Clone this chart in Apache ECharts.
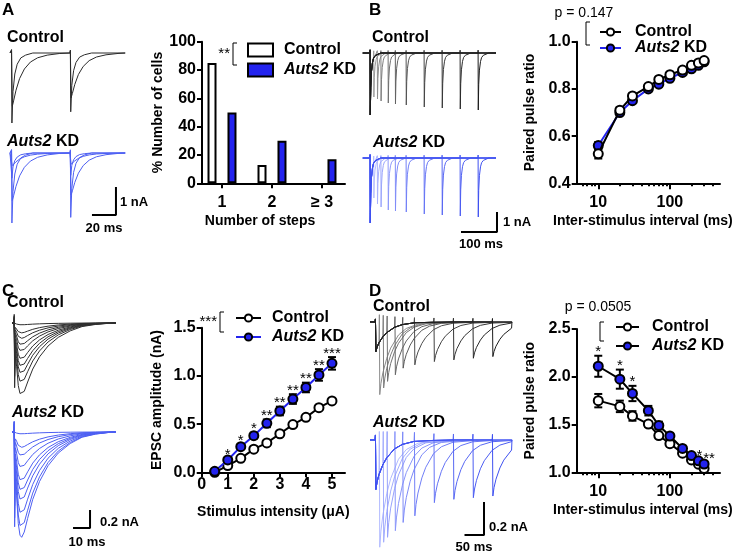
<!DOCTYPE html>
<html>
<head>
<meta charset="utf-8">
<script src="https://cdn.jsdelivr.net/npm/echarts@6.0.0/dist/echarts.min.js"></script>
<style>
    html, body { margin: 0; padding: 0; background: #fff; }
    #wrap { position: relative; width: 736px; height: 553px; }
    .panel { position: absolute; left: 0; top: 0; width: 736px; height: 553px; }
</style>
</head>
<body>
<div id="wrap">
    <div class="panel" id="pA"></div>
    <div class="panel" id="pB"></div>
    <div class="panel" id="pC"></div>
    <div class="panel" id="pD"></div>
</div>
<script>
// ---------- data ----------

// A: number of steps
const stepPos = [1, 2, 3];
const stepLabels = ['1', '2', '≥ 3'];
const stepsControl = [85, 13, 0];
const stepsKD = [50, 30, 17];

// inter-stimulus intervals (ms), B and D
const isiMs = [10, 20, 30, 50, 70, 100, 150, 200, 250, 300];

// B: paired pulse ratio
const pprBControl = [0.525, 0.71, 0.77, 0.81, 0.84, 0.86, 0.88, 0.90, 0.91, 0.92];
const pprBControlErr = [0.02, 0.012, 0.01, 0.01, 0.01, 0.01, 0.008, 0.008, 0.008, 0.008];
const pprBKD = [0.56, 0.70, 0.75, 0.80, 0.82, 0.845, 0.87, 0.885, 0.90, 0.915];
const pprBKDErr = [0.015, 0.01, 0.01, 0.01, 0.01, 0.01, 0.008, 0.008, 0.008, 0.008];

// C: input-output
const stimUA = [0.5, 1, 1.5, 2, 2.5, 3, 3.5, 4, 4.5, 5];
const epscControl = [0.0, 0.07, 0.145, 0.24, 0.305, 0.40, 0.495, 0.57, 0.67, 0.74];
const epscControlErr = [0.005, 0.01, 0.01, 0.015, 0.015, 0.02, 0.02, 0.02, 0.01, 0.02];
const epscKD = [0.01, 0.128, 0.266, 0.38, 0.508, 0.636, 0.76, 0.88, 1.01, 1.13];
const epscKDErr = [0.005, 0.02, 0.025, 0.03, 0.04, 0.045, 0.05, 0.05, 0.06, 0.065];
const epscStars = ['', '*', '*', '*', '**', '**', '**', '**', '**', '***'];

// D: paired pulse ratio
const pprDControl = [1.75, 1.69, 1.59, 1.505, 1.385, 1.30, 1.20, 1.13, 1.085, 1.04];
const pprDControlErr = [0.07, 0.06, 0.05, 0.03, 0.03, 0.03, 0.02, 0.02, 0.02, 0.02];
const pprDKD = [2.11, 1.975, 1.825, 1.645, 1.49, 1.38, 1.25, 1.175, 1.12, 1.087];
const pprDKDErr = [0.11, 0.1, 0.08, 0.05, 0.04, 0.03, 0.02, 0.02, 0.02, 0.02];
const pprDStars = ['*', '*', '*', '', '', '', '', '', '*', '**'];

// example traces: normalised waveform shapes [ms after stimulus, fraction of peak]
const shapeAFast = [[0, 0], [0.3, -0.05], [0.6, 1], [1.5, 0.55], [3, 0.3], [5, 0.16], [8, 0.07], [12, 0.03], [18, 0], [49, 0]];
const shapeASlow = [[0, 0], [0.3, -0.05], [0.9, 1], [2, 0.9], [4, 0.7], [7, 0.48], [11, 0.3], [16, 0.17], [22, 0.09], [30, 0.04], [40, 0.01], [49, 0]];
const traceAStims = [1, 50];
const traceACtrlPeaks = [[2.5, 2.1], [1.9, 1.6]];
const traceACtrlKinetics = ['fast', 'slow'];
const traceAKDPeaks = [[2.5, 2.3], [1.7, 1.5], [0.9, 0.8], [0.45, 0.4]];
const traceAKDKinetics = ['fast', 'slow', 'fast', 'slow'];

const shapeB = [[0, 0], [0.3, -0.05], [0.8, 1], [2, 0.55], [4, 0.3], [7, 0.15], [10, 0.08], [15, 0.04], [20, 0.02], [30, 0]];
const traceBStim = 20;
const traceBCtrlPeak1 = 3.1;
const traceBCtrlPeak2 = [2.2, 2.3, 2.4, 2.5, 2.55, 2.6, 2.7, 2.75, 2.8, 2.85];
const traceBKDPeak1 = 3.25;
const traceBKDPeak2 = [2.0, 2.3, 2.45, 2.6, 2.65, 2.7, 2.8, 2.85, 2.9, 2.95];

const shapeC = [[0, 0], [0.1, -0.12], [0.35, 0.9], [0.8, 0.45], [1.5, 0.6], [2.5, 0.87], [3.5, 0.98], [4.5, 1], [6, 0.95], [8, 0.82], [11, 0.64], [15, 0.47], [20, 0.32], [26, 0.2], [33, 0.11], [40, 0.05], [48, 0.02], [58, 0]];
const traceCStim = 1.2;
const traceCCtrlPeaks = [0.02, 0.11, 0.17, 0.24, 0.31, 0.40, 0.48, 0.56, 0.66, 0.80];
const traceCKDPeaks = [0.02, 0.17, 0.26, 0.39, 0.54, 0.65, 0.76, 0.91, 1.06, 1.17];

const shapeD = [[0, 0], [1, -0.1], [2, 1], [5, 0.85], [10, 0.7], [20, 0.5], [30, 0.36], [50, 0.18], [70, 0.09], [100, 0.03], [150, 0.01], [200, 0], [250, 0], [300, 0]];
const traceDStim = 13;
const traceDCtrlPeak1 = 0.18;
const traceDCtrlPeak2 = [0.44, 0.40, 0.36, 0.32, 0.28, 0.26, 0.24, 0.23, 0.22, 0.21];
const traceDKDPeak1 = 0.30;
const traceDKDPeak2 = [0.65, 0.62, 0.59, 0.55, 0.50, 0.46, 0.38, 0.36, 0.35, 0.34];

// ---------- helpers ----------
const FONT = "'Liberation Sans', Arial, Helvetica, sans-serif";
const BLUE = '#2323ee';
const TRACE_BLUE = '#4d5ff2';

function shade(c1, c2, t) {
    const a = parseInt(c1.slice(1), 16), b = parseInt(c2.slice(1), 16);
    const ch = (v, s) => (v >> s) & 255;
    const mix = (s) => Math.round(ch(a, s) + (ch(b, s) - ch(a, s)) * t);
    return 'rgb(' + mix(16) + ',' + mix(8) + ',' + mix(0) + ')';
}

// a sweep: one waveform per stimulus, each cut where the next one starts
function buildTrace(stims, peaks, shape, end) {
    const pts = [[0, 0]];
    stims.forEach((s, i) => {
        const stop = i + 1 < stims.length ? stims[i + 1] : end;
        if (i > 0) pts.push([s, pts[pts.length - 1][1]]);
        shape.forEach(([tau, f], k) => {
            if (k === 0) {
                if (i === 0) pts.push([s, 0]);
                return;
            }
            if (s + tau <= stop) pts.push([s + tau, -peaks[i] * f]);
        });
    });
    pts.push([end, 0]);
    return pts;
}

function traceSeries(data, axisIdx, color, width) {
    return {
        type: 'line', xAxisIndex: axisIdx, yAxisIndex: axisIdx, data: data,
        symbol: 'none', silent: true, z: 2,
        lineStyle: { color: color, width: width || 1 }
    };
}

function scaleBar(data, axisIdx) {
    return {
        type: 'line', xAxisIndex: axisIdx, yAxisIndex: axisIdx, data: data,
        symbol: 'none', silent: true, z: 3,
        lineStyle: { color: '#000', width: 2 }
    };
}

function hiddenAxis(gridIndex, min, max) {
    return { type: 'value', gridIndex: gridIndex, min: min, max: max, show: false };
}

const tickLabel = { color: '#000', fontFamily: FONT, fontWeight: 'bold', fontSize: 16 };
const axisName = { color: '#000', fontFamily: FONT, fontWeight: 'bold', fontSize: 14 };
const axisLine = { show: true, lineStyle: { color: '#000', width: 2 } };
const axisTick = { show: true, length: 5, lineStyle: { color: '#000', width: 2 } };

function label(x, y, text, size, weight, align) {
    return {
        type: 'text', x: x, y: y, silent: true,
        style: {
            text: text, fill: '#000', fontFamily: FONT, fontSize: size,
            fontWeight: weight || 'bold', align: align || 'left', verticalAlign: 'middle',
            rich: { i: { fontFamily: FONT, fontSize: size, fontWeight: 'bold', fontStyle: 'italic' } }
        }
    };
}

function bracket(x, y1, y2) {
    return {
        type: 'polyline', silent: true,
        shape: { points: [[x + 4, y1], [x, y1], [x, y2], [x + 4, y2]] },
        style: { stroke: '#000', lineWidth: 1, fill: null }
    };
}

function legendFmt(name) {
    return name === 'Auts2 KD' ? '{i|Auts2} KD' : name;
}

function legend(left, top, itemWidth, itemHeight, gap, textPad, icon) {
    const l = {
        orient: 'vertical', left: left, top: top, itemWidth: itemWidth, itemHeight: itemHeight,
        itemGap: gap, selectedMode: false, data: ['Control', 'Auts2 KD'],
        formatter: legendFmt,
        textStyle: {
            color: '#000', fontFamily: FONT, fontWeight: 'bold', fontSize: 16, lineHeight: 16,
            padding: [0, 0, 0, textPad],
            rich: { i: { fontFamily: FONT, fontWeight: 'bold', fontStyle: 'italic', fontSize: 16, lineHeight: 16 } }
        }
    };
    if (icon) l.icon = icon;
    return l;
}

function errorSeries(xs, vals, errs, axisIdx) {
    return {
        type: 'custom', xAxisIndex: axisIdx, yAxisIndex: axisIdx, silent: true, z: 1,
        data: xs.map((x, i) => [x, vals[i] - errs[i], vals[i] + errs[i]]),
        encode: { x: 0, y: [1, 2] },
        renderItem: function (params, api) {
            const hi = api.coord([api.value(0), api.value(2)]);
            const lo = api.coord([api.value(0), api.value(1)]);
            const st = { stroke: '#000', lineWidth: 2 };
            return {
                type: 'group', children: [
                    { type: 'line', shape: { x1: hi[0], y1: hi[1], x2: lo[0], y2: lo[1] }, style: st },
                    { type: 'line', shape: { x1: hi[0] - 4, y1: hi[1], x2: hi[0] + 4, y2: hi[1] }, style: st },
                    { type: 'line', shape: { x1: lo[0] - 4, y1: lo[1], x2: lo[0] + 4, y2: lo[1] }, style: st }
                ]
            };
        }
    };
}

function starSeries(xs, vals, errs, stars, axisIdx, dx) {
    return {
        type: 'custom', xAxisIndex: axisIdx, yAxisIndex: axisIdx, silent: true, z: 5,
        data: xs.map((x, i) => [x, vals[i] + errs[i]]),
        renderItem: function (params, api) {
            const p = api.coord([api.value(0), api.value(1)]);
            return {
                type: 'text', x: p[0] + (dx ? dx[params.dataIndex] : 0), y: p[1] + 4,
                style: {
                    text: stars[params.dataIndex], fill: '#000', fontFamily: FONT,
                    fontSize: 15, align: 'center', verticalAlign: 'bottom'
                }
            };
        }
    };
}

function meanSeries(name, xs, vals, axisIdx, lineColor, fill, z) {
    return {
        name: name, type: 'line', xAxisIndex: axisIdx, yAxisIndex: axisIdx,
        data: xs.map((x, i) => [x, vals[i]]), silent: true, z: z,
        symbol: 'circle', symbolSize: 9,
        lineStyle: { color: lineColor, width: 2 },
        itemStyle: { color: fill, borderColor: '#000', borderWidth: 2 }
    };
}

function logAxes(gridIndex) {
    return [
        {
            type: 'log', gridIndex: gridIndex, min: 5, max: 500, position: 'bottom',
            axisLine: axisLine,
            axisTick: { show: true, length: 6, customValues: [10, 100], lineStyle: { color: '#000', width: 2 } },
            axisLabel: Object.assign({ customValues: [10, 100], margin: 11 }, tickLabel),
            splitLine: { show: false }, minorTick: { show: false },
            name: 'Inter-stimulus interval (ms)', nameLocation: 'middle', nameGap: 31,
            nameTextStyle: Object.assign({ padding: [0, 11, 0, 0] }, axisName)
        },
        {
            type: 'log', gridIndex: gridIndex, min: 5, max: 500, position: 'bottom',
            axisLine: { show: false },
            axisTick: { show: true, length: 3, customValues: [6, 7, 8, 9, 20, 30, 40, 50, 60, 70, 80, 90, 200, 300, 400], lineStyle: { color: '#000', width: 2 } },
            axisLabel: { show: false }, splitLine: { show: false }
        }
    ];
}

function pprSweeps(stim, peak1, peak2, shape, end, axisIdx, c1, c2) {
    return isiMs.map((iv, i) => traceSeries(
        buildTrace([stim, stim + iv], [peak1, peak2[i]], shape, end), axisIdx, shade(c1, c2, i / 9), 1));
}

// ---------- panel A ----------
const chartA = echarts.init(document.getElementById('pA'));
const seriesA = [];
traceACtrlPeaks.forEach((pk, i) => {
    seriesA.push(traceSeries(buildTrace(traceAStims, pk, traceACtrlKinetics[i] === 'fast' ? shapeAFast : shapeASlow, 96), 0, '#2a2a2a', 1));
});
traceAKDPeaks.forEach((pk, i) => {
    seriesA.push(traceSeries(buildTrace(traceAStims, pk, traceAKDKinetics[i] === 'fast' ? shapeAFast : shapeASlow, 96), 1, TRACE_BLUE, 1));
});
seriesA.push(scaleBar([[68.3, -2.214], [88.3, -2.214], [88.3, -1.214]], 1));
seriesA.push({
    name: 'Control', type: 'bar', xAxisIndex: 2, yAxisIndex: 2, silent: true,
    data: stepPos.map((x, i) => [x, stepsControl[i] === 0 ? '-' : stepsControl[i]]),
    barWidth: 9, barGap: '122%',
    itemStyle: { color: '#fff', borderColor: '#000', borderWidth: 2 }
});
seriesA.push({
    name: 'Auts2 KD', type: 'bar', xAxisIndex: 2, yAxisIndex: 2, silent: true,
    data: stepPos.map((x, i) => [x, stepsKD[i]]),
    barWidth: 9, barGap: '122%',
    itemStyle: { color: BLUE, borderColor: '#000', borderWidth: 2 }
});

chartA.setOption({
    animation: false,
    grid: [
        { left: 10, top: 45, width: 118, height: 85 },
        { left: 10, top: 145, width: 118, height: 83 },
        { left: 202, top: 41.7, width: 143, height: 141.6 }
    ],
    xAxis: [
        hiddenAxis(0, 0, 98.33),
        hiddenAxis(1, 0, 98.33),
        {
            type: 'value', gridIndex: 2, min: 0.6, max: 3.46,
            axisLine: axisLine,
            axisTick: Object.assign({ customValues: stepPos }, axisTick),
            axisLabel: Object.assign({ customValues: stepPos, margin: 11, formatter: (v) => stepLabels[stepPos.indexOf(v)] }, tickLabel),
            splitLine: { show: false },
            name: 'Number of steps', nameLocation: 'middle', nameGap: 31,
            nameTextStyle: Object.assign({ padding: [0, 27, 0, 0] }, axisName)
        }
    ],
    yAxis: [
        hiddenAxis(0, -2.75, 0.286),
        hiddenAxis(1, -2.679, 0.286),
        {
            type: 'value', gridIndex: 2, min: 0, max: 100, interval: 20,
            axisLine: axisLine, axisTick: axisTick,
            axisLabel: Object.assign({ margin: 6 }, tickLabel),
            splitLine: { show: false },
            name: '% Number of cells', nameLocation: 'middle', nameGap: 36,
            nameTextStyle: axisName
        }
    ],
    legend: legend(242, 37, 25, 13, 4, 6, 'rect'),
    graphic: [
        label(2, 10, 'A', 17),
        label(7, 38, 'Control', 16),
        label(7, 142, '{i|Auts2} KD', 16),
        label(120, 202, '1 nA', 13),
        label(104, 228, '20 ms', 13, 'bold', 'center'),
        label(230, 54, '**', 15, 'normal', 'right'),
        bracket(233, 43, 65)
    ],
    series: seriesA
});

// ---------- panel B ----------
const chartB = echarts.init(document.getElementById('pB'));
const seriesB = []
    .concat(pprSweeps(traceBStim, traceBCtrlPeak1, traceBCtrlPeak2, shapeB, 370, 0, '#9a9a9a', '#1c1c1c'))
    .concat(pprSweeps(traceBStim, traceBKDPeak1, traceBKDPeak2, shapeB, 370, 1, '#b6beff', '#3e50f0'));
seriesB.push(scaleBar([[272.8, -3.7], [372.8, -3.7], [372.8, -2.7]], 1));
seriesB.push(errorSeries(isiMs, pprBKD, pprBKDErr, 2));
seriesB.push(errorSeries(isiMs, pprBControl, pprBControlErr, 2));
seriesB.push(meanSeries('Auts2 KD', isiMs, pprBKD, 2, BLUE, BLUE, 3));
seriesB.push(meanSeries('Control', isiMs, pprBControl, 2, '#000', '#fff', 4));

chartB.setOption({
    animation: false,
    grid: [
        { left: 362.8, top: 45, width: 137, height: 80 },
        { left: 362.8, top: 150, width: 137, height: 82 },
        { left: 576.7, top: 41.7, width: 143.3, height: 141.6 }
    ],
    xAxis: [hiddenAxis(0, 0, 380.6), hiddenAxis(1, 0, 380.6)].concat(logAxes(2)),
    yAxis: [
        hiddenAxis(0, -3.6, 0.4),
        hiddenAxis(1, -3.7, 0.4),
        {
            type: 'value', gridIndex: 2, min: 0.4, max: 1.0, interval: 0.2,
            axisLine: axisLine, axisTick: axisTick,
            axisLabel: Object.assign({ margin: 6, formatter: (v) => v.toFixed(1) }, tickLabel),
            splitLine: { show: false },
            name: 'Paired pulse ratio', nameLocation: 'middle', nameGap: 40,
            nameTextStyle: axisName
        }
    ],
    legend: legend(594, 19, 21, 9, 0, 9),
    graphic: [
        label(369, 10, 'B', 17),
        label(372, 38, 'Control', 16),
        label(373, 143, '{i|Auts2} KD', 16),
        label(503, 222, '1 nA', 13),
        label(481, 244, '100 ms', 13, 'bold', 'center'),
        label(584, 13, 'p = 0.147', 14, 'normal', 'center'),
        bracket(586, 22, 45)
    ],
    series: seriesB
});

// ---------- panel C ----------
const chartC = echarts.init(document.getElementById('pC'));
const seriesC = [];
traceCCtrlPeaks.forEach((pk) => {
    seriesC.push(traceSeries(buildTrace([traceCStim], [pk], shapeC, 61), 0, '#2e2e2e', 1));
});
traceCKDPeaks.forEach((pk) => {
    seriesC.push(traceSeries(buildTrace([traceCStim], [pk], shapeC, 61), 1, TRACE_BLUE, 1));
});
seriesC.push(scaleBar([[35.9, -1.067], [45.9, -1.067], [45.9, -0.867]], 1));
seriesC.push(errorSeries(stimUA, epscControl, epscControlErr, 2));
seriesC.push(errorSeries(stimUA, epscKD, epscKDErr, 2));
seriesC.push(meanSeries('Control', stimUA, epscControl, 2, '#000', '#fff', 3));
seriesC.push(meanSeries('Auts2 KD', stimUA, epscKD, 2, BLUE, BLUE, 4));
seriesC.push(starSeries(stimUA, epscKD, epscKDErr, epscStars, 2));

chartC.setOption({
    animation: false,
    grid: [
        { left: 12, top: 313, width: 106, height: 87 },
        { left: 12, top: 422, width: 106, height: 118 },
        { left: 201.7, top: 327.7, width: 143.3, height: 144.6 }
    ],
    xAxis: [
        hiddenAxis(0, 0, 62.35),
        hiddenAxis(1, 0, 62.35),
        {
            type: 'value', gridIndex: 2, min: 0, max: 5.5,
            axisLine: axisLine,
            axisTick: Object.assign({ customValues: [0, 1, 2, 3, 4, 5] }, axisTick),
            axisLabel: Object.assign({ customValues: [0, 1, 2, 3, 4, 5], margin: 4 }, tickLabel),
            splitLine: { show: false },
            name: 'Stimulus intensity (μA)', nameLocation: 'middle', nameGap: 33,
            nameTextStyle: axisName
        }
    ],
    yAxis: [
        hiddenAxis(0, -0.856, 0.111),
        hiddenAxis(1, -1.2, 0.111),
        {
            type: 'value', gridIndex: 2, min: 0, max: 1.5, interval: 0.5,
            axisLine: axisLine, axisTick: axisTick,
            axisLabel: Object.assign({ margin: 6, formatter: (v) => v.toFixed(1) }, tickLabel),
            splitLine: { show: false },
            name: 'EPSC amplitude (nA)', nameLocation: 'middle', nameGap: 38,
            nameTextStyle: axisName
        }
    ],
    legend: legend(230, 305, 25, 9, 3, 6),
    graphic: [
        label(2, 291, 'C', 17),
        label(7, 303, 'Control', 16),
        label(12, 413, '{i|Auts2} KD', 16),
        label(100, 522, '0.2 nA', 13),
        label(87, 542, '10 ms', 13, 'bold', 'center'),
        label(217, 322, '***', 15, 'normal', 'right'),
        bracket(220, 312, 332)
    ],
    series: seriesC
});

// ---------- panel D ----------
const chartD = echarts.init(document.getElementById('pD'));
const seriesD = []
    .concat(pprSweeps(traceDStim, traceDCtrlPeak1, traceDCtrlPeak2, shapeD, 364, 0, '#8a8a8a', '#1c1c1c'))
    .concat(pprSweeps(traceDStim, traceDKDPeak1, traceDKDPeak2, shapeD, 364, 1, '#b0b9ff', '#3e50f0'));
seriesD.push(scaleBar([[242.3, -0.576], [292.3, -0.576], [292.3, -0.376]], 1));
seriesD.push(errorSeries(isiMs, pprDControl, pprDControlErr, 2));
seriesD.push(errorSeries(isiMs, pprDKD, pprDKDErr, 2));
seriesD.push(meanSeries('Control', isiMs, pprDControl, 2, '#000', '#fff', 3));
seriesD.push(meanSeries('Auts2 KD', isiMs, pprDKD, 2, '#000', BLUE, 4));
seriesD.push(starSeries(isiMs, pprDKD, pprDKDErr, pprDStars, 2, [0, 0, 0, 0, 0, 0, 0, 0, 1, 5]));

chartD.setOption({
    animation: false,
    grid: [
        { left: 370, top: 314, width: 144, height: 91 },
        { left: 370, top: 432, width: 144, height: 120 },
        { left: 576.7, top: 329, width: 143.3, height: 143.3 }
    ],
    xAxis: [hiddenAxis(0, 0, 369.2), hiddenAxis(1, 0, 369.2)].concat(logAxes(2)),
    yAxis: [
        hiddenAxis(0, -0.503, 0.048),
        hiddenAxis(1, -0.679, 0.048),
        {
            type: 'value', gridIndex: 2, min: 1.0, max: 2.5, interval: 0.5,
            axisLine: axisLine, axisTick: axisTick,
            axisLabel: Object.assign({ margin: 6, formatter: (v) => v.toFixed(1) }, tickLabel),
            splitLine: { show: false },
            name: 'Paired pulse ratio', nameLocation: 'middle', nameGap: 40,
            nameTextStyle: axisName
        }
    ],
    legend: legend(610, 314, 23, 9, 3, 8),
    graphic: [
        label(369, 291, 'D', 17),
        label(373, 307, 'Control', 16),
        label(373, 423, '{i|Auts2} KD', 16),
        label(489, 527, '0.2 nA', 13),
        label(474, 547, '50 ms', 13, 'bold', 'center'),
        label(598, 307, 'p = 0.0505', 14, 'normal', 'center'),
        bracket(600, 322, 341)
    ],
    series: seriesD
});
</script>
</body>
</html>
